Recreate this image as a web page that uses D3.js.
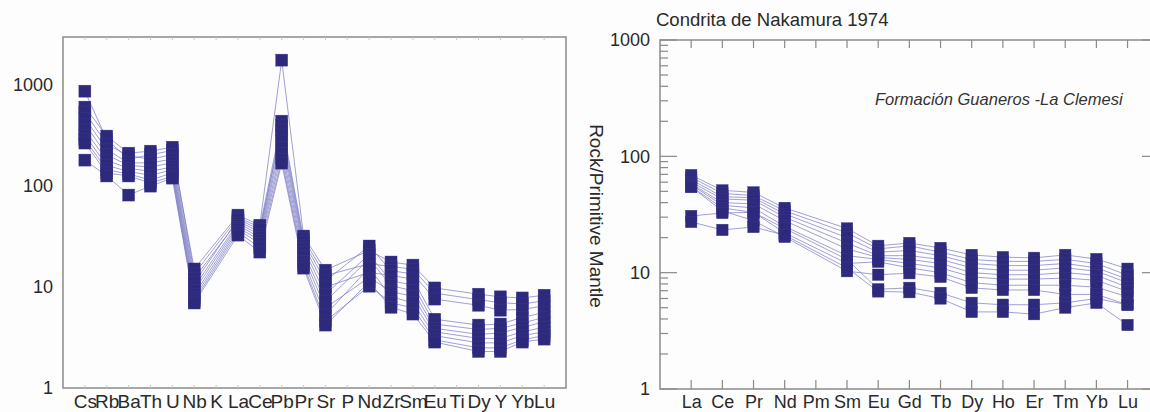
<!DOCTYPE html>
<html><head><meta charset="utf-8">
<script src="https://cdn.jsdelivr.net/npm/d3@7/dist/d3.min.js"></script>
<style>html,body{margin:0;padding:0;background:#fdfdfd;}svg{display:block;font-family:"Liberation Sans",Arial,sans-serif;}</style>
</head><body>
<svg id="c" width="1150" height="412"></svg>
<script>
// ---------- DATA ----------
const leftElements = ["Cs","Rb","Ba","Th","U","Nb","K","La","Ce","Pb","Pr","Sr","P","Nd","Zr","Sm","Eu","Ti","Dy","Y","Yb","Lu"];
const leftTicks = [1, 10, 100, 1000];
// spider diagram (primitive mantle normalised), one array per sample
const leftS1  = [872, 290, 185, 205, 225, 15.1, null, 51.6, 41, 1770, 32, 14.7, null, 23, 17.7, 16.5, 9.8, null, 8.5, 8.0, 7.8, 8.3];
const leftS2  = [606, 313, 212, 222, 243, 13.5, null, 49, 39, 440, 30, 13, null, 17, 16, 15, 8.7, null, 7.5, 7.0, 6.8, 7.3];
const leftS3  = [540, 260, 200, 185, 205, 12.2, null, 45, 35, 400, 28, 11.5, null, 25.5, 14.5, 13.5, 7.6, null, 6.6, 5.9, 6.0, 6.5];
const leftS4  = [470, 230, 170, 170, 185, 11, null, 47, 37, 360, 26, 10, null, 14, 13, 12, 4.8, null, 4.2, 4.3, 5.0, 5.6];
const leftS5  = [410, 205, 160, 155, 170, 10, null, 43, 33, 320, 24, 8.5, null, 21, 11.5, 10.5, 4.3, null, 3.8, 3.9, 4.4, 5.0];
const leftS6  = [360, 180, 150, 140, 155, 9.2, null, 41, 31, 280, 22, 7.2, null, 19, 10.3, 9.2, 3.9, null, 3.4, 3.5, 4.0, 4.5];
const leftS7  = [320, 160, 140, 128, 145, 8.4, null, 39, 29, 240, 20, 6.2, null, 12.5, 9, 8.1, 3.6, null, 3.1, 3.1, 3.6, 4.0];
const leftS8  = [290, 145, 132, 115, 135, 7.8, null, 37, 27, 210, 18, 5.3, null, 15.5, 8, 7, 3.3, null, 2.8, 2.8, 3.3, 3.6];
const leftS9  = [267, 135, 126, 107, 125, 7.3, null, 35, 24.5, 185, 16.5, 4.6, null, 10.2, 7, 6.2, 3.0, null, 2.5, 2.5, 3.0, 3.3];
const leftS10 = [181, 126, 81.5, 100, 120, 6.95, null, 32.7, 22.2, 169, 15.4, 4.2, null, 11.2, 6.3, 5.4, 2.85, null, 2.3, 2.3, 2.85, 3.05];
const leftSamples = [leftS1,leftS2,leftS3,leftS4,leftS5,leftS6,leftS7,leftS8,leftS9,leftS10];

const rightElements = ["La","Ce","Pr","Nd","Pm","Sm","Eu","Gd","Tb","Dy","Ho","Er","Tm","Yb","Lu"];
const rightTicks = [1, 10, 100, 1000];
// REE (chondrite normalised), one array per sample
const rightA = [69, 51, 49, 36, null, 24, 17, 18, 16.3, 14.2, 13.6, 13.4, 14.2, 13.1, 10.8];
const rightB = [66, 48, 46, 34, null, 22, 16, 17, 15, 13, 12.5, 12.5, 13, 12, 9.5];
const rightC = [63, 45, 44, 32, null, 20, 15, 15.5, 14, 12, 11.5, 11.5, 12, 11, 8.8];
const rightD = [60, 43, 42, 30, null, 18, 14, 14, 13, 11, 10.5, 10.5, 11, 10.3, 8.2];
const rightE = [58, 40, 39, 28, null, 16, 13.5, 13, 12, 10, 9.6, 9.6, 10, 9.5, 7.5];
const rightF = [57, 38, 36, 25, null, 14, 13, 12, 11, 9.2, 8.8, 8.8, 9, 8.6, 6.9];
const rightG = [55, 36, 33, 22, null, 12, 12.4, 11, 10, 8.2, 7.8, 7.8, 7.8, 7.5, 6.2];
const rightH = [54.6, 34, 28, 20.3, null, 10.3, 9.6, 9.9, 9.2, 7.4, 7.1, 7.1, 6.5, 6.5, 5.3];
const rightI = [30.7, 32.6, 33, 24, null, 13, 7.2, 7.4, 6.7, 5.5, 5.3, 5.3, 5.5, 6.0, 5.3];
const rightJ = [27.3, 23.3, 24.7, 21, null, 11, 6.9, 6.8, 6.0, 4.6, 4.6, 4.4, 5.0, 5.5, 3.55];
const rightSamples = [rightA,rightB,rightC,rightD,rightE,rightF,rightG,rightH,rightI,rightJ];

const titleText = "Condrita de Nakamura 1974";
const yLabelText = "Rock/Primitive Mantle";
const noteText = "Formación Guaneros -La Clemesi";

// ---------- STYLE ----------
const markFill = "#2d2a7c", markStroke = "#3d3a92", lineCol = "#7c7cc4";
const frameCol = "#8a8a8a", textCol = "#2a2a2a";
const svg = d3.select("#c");

function drawSamples(g, samples, x, y, size) {
  const line = d3.line().x(d => x(d.i)).y(d => y(d.v));
  const pts = samples.map(s => s.map((v, i) => ({i, v})).filter(d => d.v != null));
  g.append("g").selectAll("path").data(pts).join("path")
    .attr("d", line).attr("fill", "none").attr("stroke", lineCol)
    .attr("stroke-width", 0.8).attr("stroke-opacity", 0.9);
  g.append("g").selectAll("rect").data(pts.flat()).join("rect")
    .attr("x", d => x(d.i) - size/2).attr("y", d => y(d.v) - size/2)
    .attr("width", size).attr("height", size)
    .attr("fill", markFill).attr("stroke", markStroke).attr("stroke-width", 0.4);
}

// ---------- LEFT PANEL ----------
{
  const L = 63, R = 566, T = 37, B = 388;
  const x = d3.scaleLinear().domain([-1, 22]).range([L, R]);
  const y = d3.scaleLog().domain([1, 3000]).range([B, T]);
  const g = svg.append("g");
  g.append("rect").attr("x", L).attr("y", T).attr("width", R - L).attr("height", B - T)
    .attr("fill", "none").attr("stroke", frameCol).attr("stroke-width", 1.5);
  const tx = g.append("g").attr("stroke", "#c8c8c8").attr("stroke-width", 1);
  leftElements.forEach((e, i) => {
    tx.append("line").attr("x1", x(i)).attr("x2", x(i)).attr("y1", T).attr("y2", T + 3);
    tx.append("line").attr("x1", x(i)).attr("x2", x(i)).attr("y1", B).attr("y2", B - 3);
  });
  const yAxis = d3.axisLeft(y).tickValues(leftTicks).tickFormat(d3.format("d")).tickSize(0).tickPadding(10);
  const ya = g.append("g").attr("transform", `translate(${L},0)`).call(yAxis);
  ya.select(".domain").remove();
  ya.selectAll("text").attr("font-size", 18).attr("fill", textCol).attr("font-family", "Liberation Sans, Arial, sans-serif");
  const xa = g.append("g").attr("transform", `translate(0,${B})`)
    .call(d3.axisBottom(x).tickValues(d3.range(leftElements.length)).tickFormat(i => leftElements[i]).tickSize(0).tickPadding(7));
  xa.select(".domain").remove();
  xa.selectAll("text").attr("font-size", 19).attr("fill", textCol).attr("font-family", "Liberation Sans, Arial, sans-serif");
  drawSamples(g, leftSamples, x, y, 12);
}

// ---------- RIGHT PANEL ----------
{
  const L = 660, R = 1150, T = 40, B = 389;
  const x = d3.scaleLinear().domain([-1, 14.72]).range([L, R]);
  const y = d3.scaleLog().domain([1, 1000]).range([B, T]);
  const g = svg.append("g");
  g.append("rect").attr("x", L).attr("y", T).attr("width", R - L + 2).attr("height", B - T)
    .attr("fill", "none").attr("stroke", frameCol).attr("stroke-width", 1.5);
  const minor = [];
  [1, 10, 100].forEach(dec => { for (let k = 2; k <= 9; k++) minor.push(dec * k); });
  const tk = g.append("g").attr("stroke", frameCol).attr("stroke-width", 1.2);
  tk.selectAll(".mn").data(minor).join("line")
    .attr("x1", L).attr("x2", L + 8).attr("y1", d => y(d)).attr("y2", d => y(d));
  tk.selectAll(".mj").data(rightTicks).join("line")
    .attr("x1", L).attr("x2", L + 17).attr("y1", d => y(d)).attr("y2", d => y(d));
  tk.selectAll(".rj").data(rightTicks).join("line")
    .attr("x1", R - 8).attr("x2", R).attr("y1", d => y(d)).attr("y2", d => y(d));
  tk.selectAll(".bt").data(d3.range(rightElements.length)).join("line")
    .attr("x1", d => x(d)).attr("x2", d => x(d)).attr("y1", B).attr("y2", B - 9);
  tk.selectAll(".tt").data(d3.range(rightElements.length)).join("line")
    .attr("x1", d => x(d)).attr("x2", d => x(d)).attr("y1", T).attr("y2", T + 8);
  const ya = g.append("g").attr("transform", `translate(${L},0)`)
    .call(d3.axisLeft(y).tickValues(rightTicks).tickFormat(d3.format("d")).tickSize(0).tickPadding(10));
  ya.select(".domain").remove();
  ya.selectAll("text").attr("font-size", 18).attr("fill", textCol).attr("font-family", "Liberation Sans, Arial, sans-serif");
  const xa = g.append("g").attr("transform", `translate(0,${B})`)
    .call(d3.axisBottom(x).tickValues(d3.range(rightElements.length)).tickFormat(i => rightElements[i]).tickSize(0).tickPadding(6));
  xa.select(".domain").remove();
  xa.selectAll("text").attr("font-size", 18).attr("fill", textCol).attr("font-family", "Liberation Sans, Arial, sans-serif");
  svg.append("text").attr("x", 656).attr("y", 26).attr("font-size", 18.5).attr("fill", textCol).text(titleText);
  svg.append("text").attr("transform", "translate(590,216) rotate(90)").attr("text-anchor", "middle")
    .attr("font-size", 19).attr("fill", textCol).text(yLabelText);
  svg.append("text").attr("x", 875).attr("y", 105).attr("font-size", 16.5).attr("font-style", "italic")
    .attr("fill", "#333").text(noteText);
  drawSamples(g, rightSamples, x, y, 11.5);
}
</script>
</body></html>
